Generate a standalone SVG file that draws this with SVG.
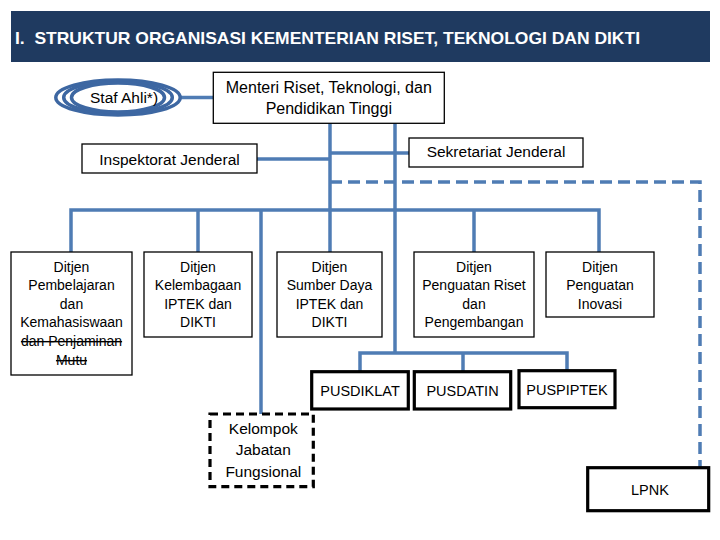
<svg xmlns="http://www.w3.org/2000/svg" width="720" height="540" viewBox="0 0 720 540">
<style>
.t{font-family:"Liberation Sans",Arial,sans-serif;fill:#000;}
.box{fill:#fff;stroke:#000;stroke-width:1.3;}
.bold{fill:#fff;stroke:#000;stroke-width:3.2;}
.dash{fill:#fff;stroke:#000;stroke-width:3.2;stroke-dasharray:8 5;}
.c{fill:none;stroke:#4f7cb4;stroke-width:3.5;}
.cd{fill:none;stroke:#4f7cb4;stroke-width:3.5;stroke-dasharray:12 6;}
.ring{fill:none;stroke:#3d67a2;stroke-width:3.5;}
.d{font-size:14px;text-anchor:middle;}
</style>
<rect x="0" y="0" width="720" height="540" fill="#fff"/>
<g id="header">
<rect x="11" y="11" width="699" height="51" fill="#1f3a60"/>
<text x="15" y="43.5" font-family="Liberation Sans,Arial,sans-serif" font-weight="bold" font-size="16.3" fill="#fff" textLength="625" lengthAdjust="spacingAndGlyphs" style="white-space:pre" xml:space="preserve">I.  STRUKTUR ORGANISASI KEMENTERIAN RISET, TEKNOLOGI DAN DIKTI</text>
</g>
<g id="connectors">
<line class="c" x1="181" y1="97.5" x2="213" y2="97.5"/>
<polyline class="c" points="330,123 330,252"/>
<polyline class="c" points="395,123 395,353"/>
<line class="c" x1="257" y1="159" x2="330" y2="159"/>
<line class="c" x1="330" y1="153" x2="409" y2="153"/>
<polyline class="cd" points="330,182 700,182 700,468"/>
<polyline class="c" points="71,252 71,210 599,210 599,252"/>
<line class="c" x1="198" y1="210" x2="198" y2="252"/>
<line class="c" x1="474" y1="210" x2="474" y2="252"/>
<line class="c" x1="261" y1="210" x2="261" y2="414"/>
<polyline class="c" points="360,372 360,353 567,353 567,371"/>
<line class="c" x1="463" y1="353" x2="463" y2="372"/>
</g>
<g id="staf-ahli">
<ellipse class="ring" cx="118" cy="97.5" rx="62.2" ry="17.5"/>
<ellipse class="ring" cx="118" cy="97.5" rx="54.3" ry="16"/>
<ellipse class="ring" cx="118" cy="97.5" rx="46.5" ry="14.5"/>
<text class="t" x="90" y="103.3" font-size="15.5">Staf Ahli*)</text>
</g>
<g id="menteri">
<rect class="box" x="213.3" y="72.3" width="231" height="51"/>
<text class="t" x="328.8" y="93.3" font-size="16" text-anchor="middle">Menteri Riset, Teknologi, dan</text>
<text class="t" x="328.8" y="113.8" font-size="16" text-anchor="middle">Pendidikan Tinggi</text>
</g>
<g id="inspektorat">
<rect class="box" x="82" y="144" width="175" height="29"/>
<text class="t" x="169.5" y="165" font-size="15.5" text-anchor="middle">Inspektorat Jenderal</text>
</g>
<g id="sekretariat">
<rect class="box" x="409" y="138" width="174" height="29"/>
<text class="t" x="496" y="157.3" font-size="15.5" text-anchor="middle">Sekretariat Jenderal</text>
</g>
<g id="ditjen-pembelajaran">
<rect class="box" x="11" y="252" width="121" height="123"/>
<text class="t d" x="71.5" y="271.5">Ditjen</text>
<text class="t d" x="71.5" y="290">Pembelajaran</text>
<text class="t d" x="71.5" y="308.5">dan</text>
<text class="t d" x="71.5" y="327">Kemahasiswaan</text>
<text class="t d" x="71.5" y="346" text-decoration="line-through">dan Penjaminan</text>
<text class="t d" x="71.5" y="365" text-decoration="line-through">Mutu</text>
</g>
<g id="ditjen-kelembagaan">
<rect class="box" x="144" y="252" width="108" height="85"/>
<text class="t d" x="198" y="271.5">Ditjen</text>
<text class="t d" x="198" y="290">Kelembagaan</text>
<text class="t d" x="198" y="308.5">IPTEK dan</text>
<text class="t d" x="198" y="327">DIKTI</text>
</g>
<g id="ditjen-sdm">
<rect class="box" x="277" y="252" width="105" height="85"/>
<text class="t d" x="329.5" y="271.5">Ditjen</text>
<text class="t d" x="329.5" y="290">Sumber Daya</text>
<text class="t d" x="329.5" y="308.5">IPTEK dan</text>
<text class="t d" x="329.5" y="327">DIKTI</text>
</g>
<g id="ditjen-riset">
<rect class="box" x="414" y="252" width="120" height="85"/>
<text class="t d" x="474" y="271.5">Ditjen</text>
<text class="t d" x="474" y="290">Penguatan Riset</text>
<text class="t d" x="474" y="308.5">dan</text>
<text class="t d" x="474" y="327">Pengembangan</text>
</g>
<g id="ditjen-inovasi">
<rect class="box" x="546" y="252" width="108" height="65"/>
<text class="t d" x="600" y="271.5">Ditjen</text>
<text class="t d" x="600" y="290">Penguatan</text>
<text class="t d" x="600" y="308.5">Inovasi</text>
</g>
<g id="pusdiklat">
<rect class="bold" x="311.7" y="371.7" width="96.6" height="37.3"/>
<text class="t" x="360" y="395.5" font-size="14.5" text-anchor="middle">PUSDIKLAT</text>
</g>
<g id="pusdatin">
<rect class="bold" x="414.3" y="371.7" width="96.4" height="37.3"/>
<text class="t" x="462.5" y="395.5" font-size="14.5" text-anchor="middle">PUSDATIN</text>
</g>
<g id="puspiptek">
<rect class="bold" x="519" y="370.7" width="96" height="37"/>
<text class="t" x="567" y="394.5" font-size="14.5" text-anchor="middle">PUSPIPTEK</text>
</g>
<g id="kelompok">
<rect class="dash" x="210" y="414" width="103.3" height="72.7"/>
<text class="t" x="263.3" y="433.5" font-size="15.5" text-anchor="middle">Kelompok</text>
<text class="t" x="263.3" y="455.3" font-size="15.5" text-anchor="middle">Jabatan</text>
<text class="t" x="263.3" y="477.3" font-size="15.5" text-anchor="middle">Fungsional</text>
</g>
<g id="lpnk">
<rect class="bold" x="587.7" y="467.7" width="121" height="43"/>
<text class="t" x="650" y="495" font-size="14.5" text-anchor="middle">LPNK</text>
</g>
</svg>
